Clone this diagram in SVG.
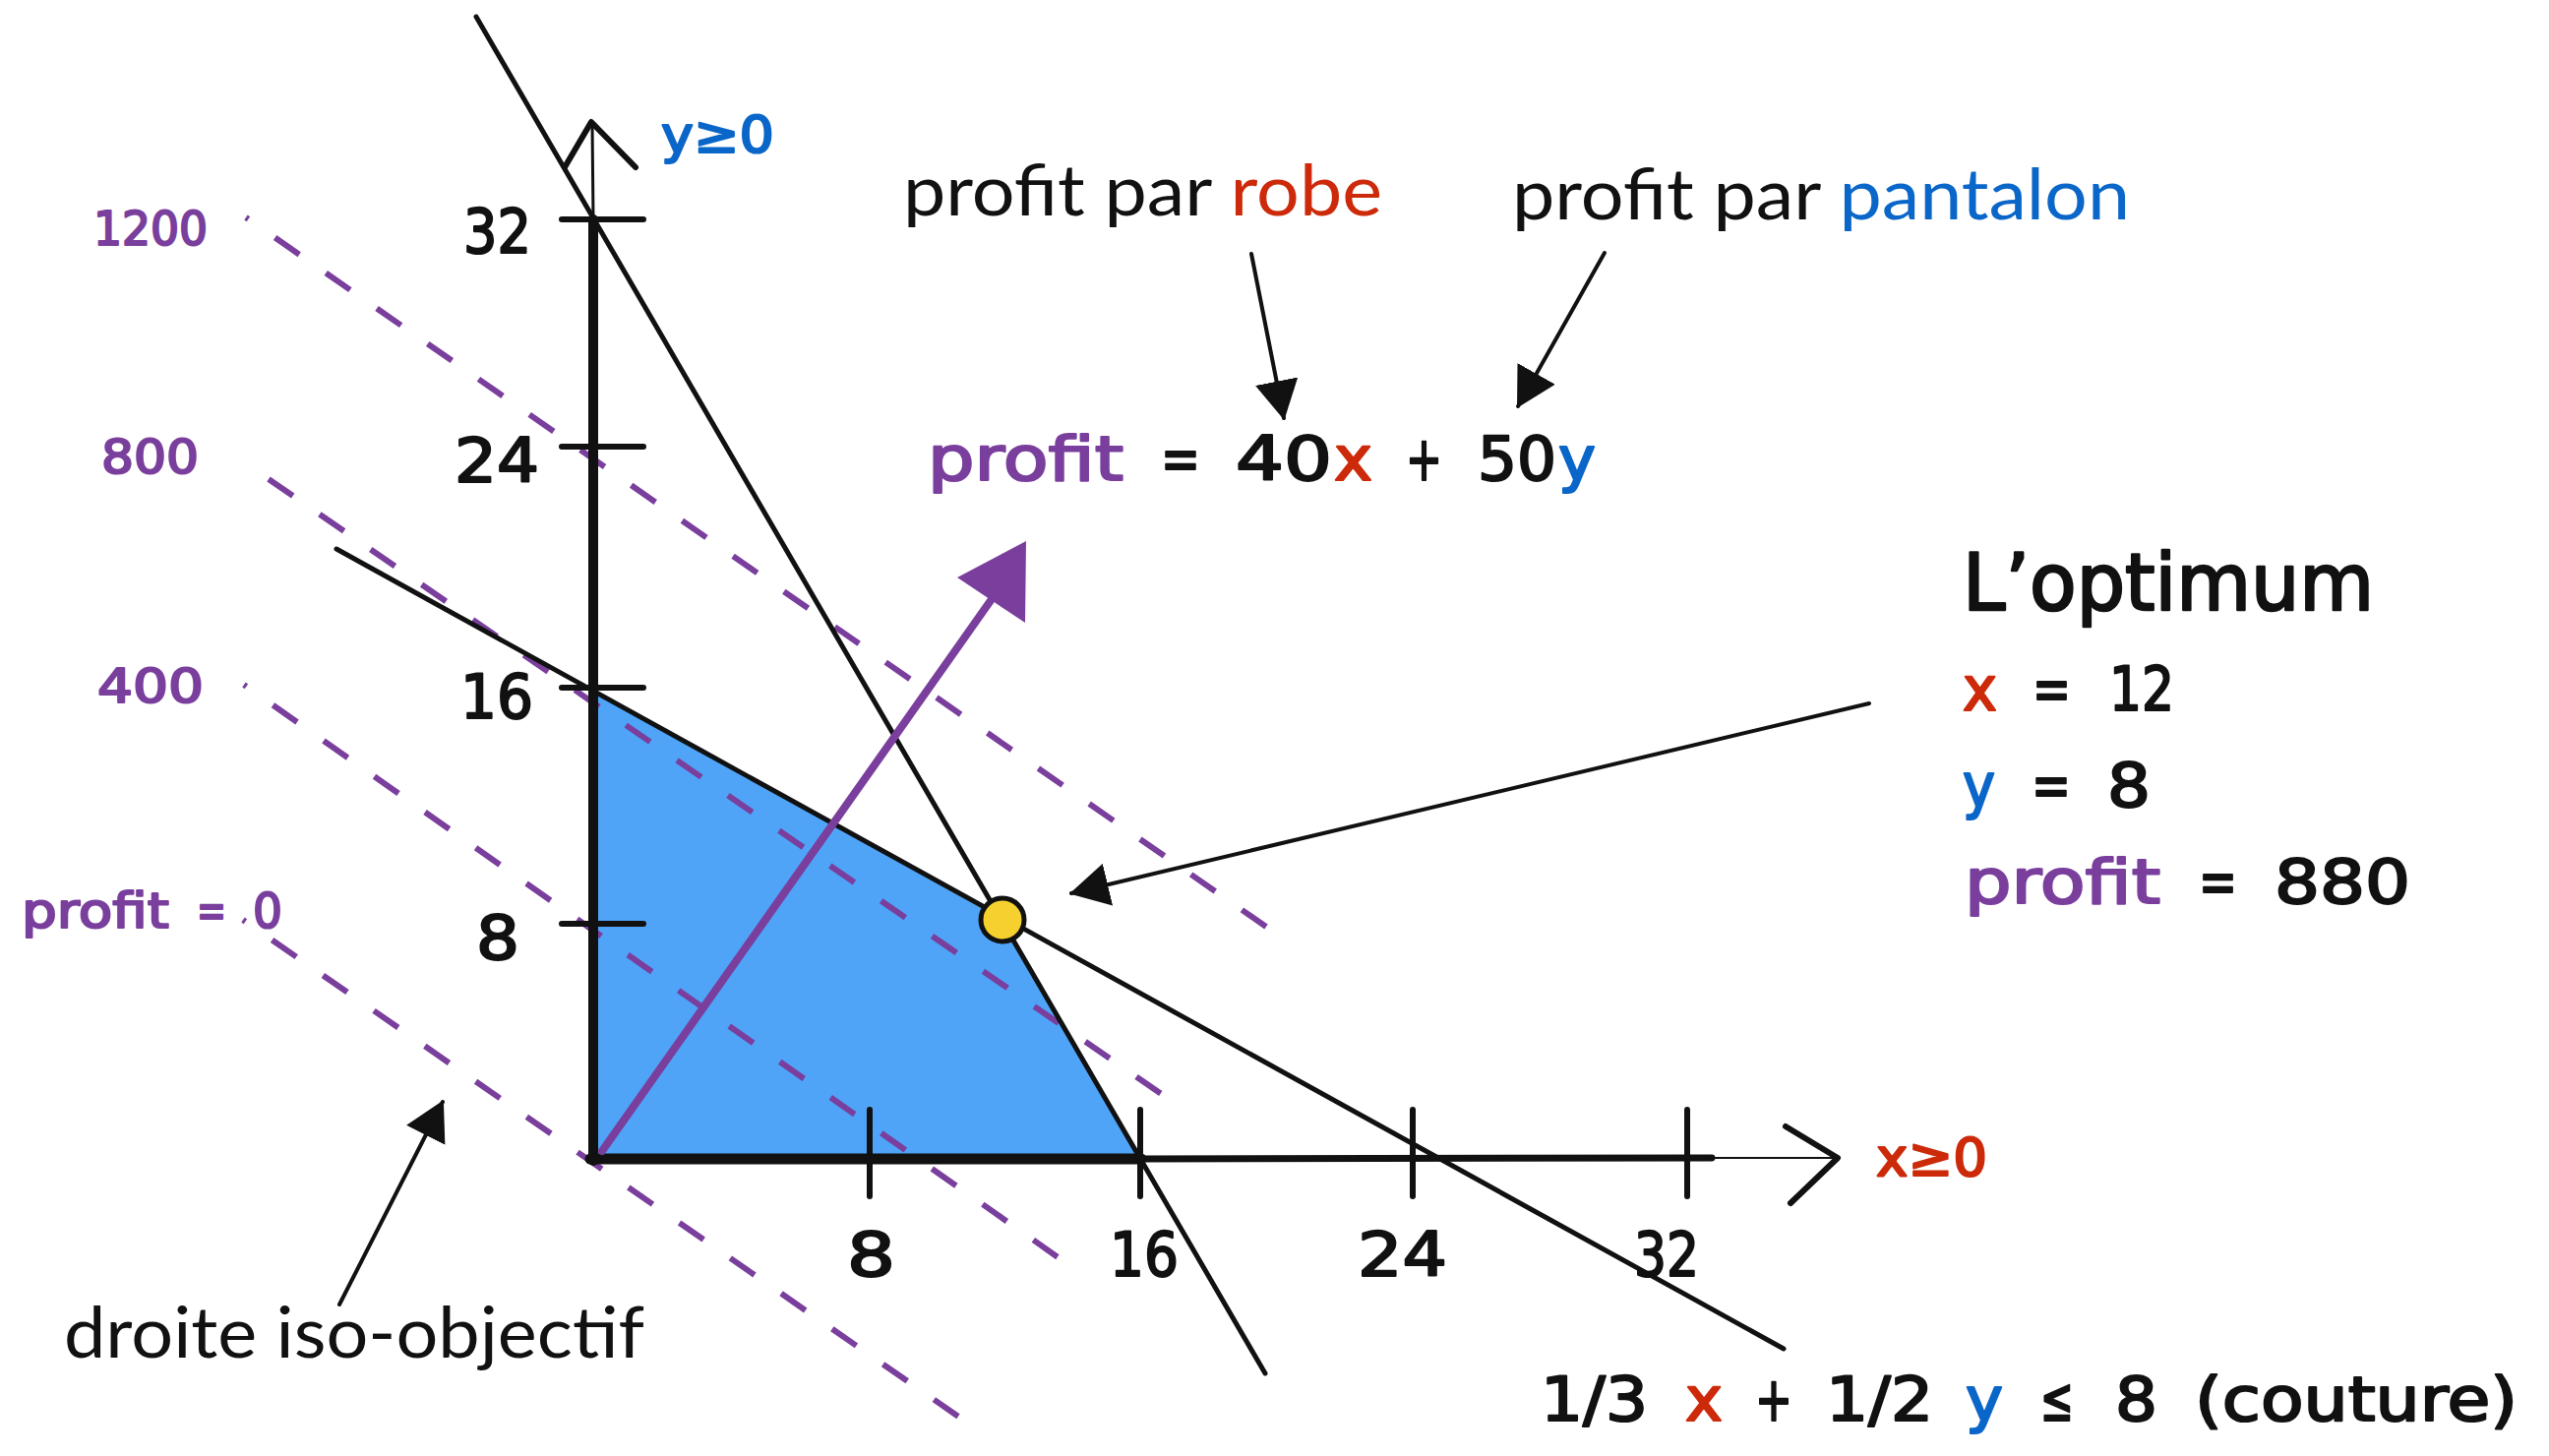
<svg xmlns="http://www.w3.org/2000/svg" width="2591" height="1480" viewBox="0 0 2591 1480">
<style>
.sans { font-family: Lato, "Liberation Sans", sans-serif; font-size: 72px; fill: #111; }
.chalk { font-family: "DejaVu Sans", "Liberation Sans", sans-serif; fill: #111; stroke: #111; stroke-width: 2.2; stroke-linejoin: round; }
.red { fill: #cc2a0a; }
.blu { fill: #0a66c8; }
.pur { fill: #7a3f9d; }
.chalk .red, .chalk.red { stroke: #cc2a0a; }
.chalk .blu, .chalk.blu { stroke: #0a66c8; }
.chalk .pur, .chalk.pur { stroke: #7a3f9d; }
.cline { stroke: #111; stroke-width: 5; fill: none; stroke-linecap: round; }
.axis { stroke: #111; fill: none; stroke-linecap: round; stroke-linejoin: round; }
.tick { stroke: #111; stroke-width: 6; stroke-linecap: round; }
.iso { stroke: #7a3f9d; stroke-width: 6; stroke-dasharray: 30 33; fill: none; }
.arr { stroke: #111; stroke-width: 4; fill: none; stroke-linecap: round; }
</style>
<defs>
<marker id="ah" markerUnits="userSpaceOnUse" markerWidth="40" markerHeight="44" refX="38" refY="22" orient="auto">
<path d="M0,0 L40,22 L0,44 Z" fill="#111"/>
</marker>
</defs>
<rect width="2591" height="1480" fill="#fff"/>

<g id="feasible-region">
<polygon points="603,1178 603,702 1019,935 1159,1178" fill="#4fa4f8"/>
</g>

<g id="iso-lines">
<line class="iso" x1="250" y1="221" x2="1310" y2="958" stroke-dashoffset="27"/>
<line class="iso" x1="273" y1="487" x2="1198" y2="1124"/>
<line class="iso" x1="248" y1="696" x2="1091" y2="1289" stroke-dashoffset="27"/>
<line class="iso" x1="247" y1="935" x2="983" y2="1446" stroke-dashoffset="27"/>
</g>

<g id="constraints">
<line class="cline" x1="484" y1="17" x2="1286" y2="1396"/>
<line class="cline" x1="342" y1="558" x2="1813" y2="1371"/>
</g>

<g id="axes">
<line class="axis" x1="603" y1="1180" x2="603" y2="223" stroke-width="10"/>
<line class="axis" x1="603" y1="223" x2="602" y2="126" stroke-width="3"/>
<polyline class="axis" points="574,170 601,124 646,170" stroke-width="6"/>
<line class="axis" x1="600" y1="1178" x2="1160" y2="1178" stroke-width="11"/>
<line class="axis" x1="1160" y1="1178" x2="1740" y2="1177" stroke-width="7"/>
<line class="axis" x1="1740" y1="1177" x2="1866" y2="1177" stroke-width="2"/>
<polyline class="axis" points="1815,1145 1868,1177 1820,1223" stroke-width="6"/>
<line class="tick" x1="571" y1="223" x2="654" y2="223"/>
<line class="tick" x1="571" y1="454" x2="654" y2="454"/>
<line class="tick" x1="571" y1="699" x2="654" y2="699"/>
<line class="tick" x1="571" y1="939" x2="654" y2="939"/>
<line class="tick" x1="884" y1="1128" x2="884" y2="1216"/>
<line class="tick" x1="1159" y1="1128" x2="1159" y2="1216"/>
<line class="tick" x1="1436" y1="1128" x2="1436" y2="1216"/>
<line class="tick" x1="1715" y1="1128" x2="1715" y2="1216"/>
</g>

<g id="axis-labels" class="chalk" font-size="62">
<text x="471" y="257" textLength="69" lengthAdjust="spacingAndGlyphs">32</text>
<text x="462" y="490" textLength="86" lengthAdjust="spacingAndGlyphs">24</text>
<text x="468" y="730" textLength="74" lengthAdjust="spacingAndGlyphs">16</text>
<text x="484" y="975" textLength="44" lengthAdjust="spacingAndGlyphs">8</text>
<text x="861" y="1297" textLength="49" lengthAdjust="spacingAndGlyphs">8</text>
<text x="1128" y="1297" textLength="70" lengthAdjust="spacingAndGlyphs">16</text>
<text x="1380" y="1297" textLength="91" lengthAdjust="spacingAndGlyphs">24</text>
<text x="1661" y="1297" textLength="66" lengthAdjust="spacingAndGlyphs">32</text>
<text class="red" x="1907" y="1195" font-size="54" textLength="113" lengthAdjust="spacingAndGlyphs">x≥0</text>
<text class="blu" x="672" y="155" font-size="52" textLength="115" lengthAdjust="spacingAndGlyphs">y≥0</text>
</g>

<g id="iso-labels" class="chalk pur" font-size="48" stroke-width="1.4">
<text class="pur" x="95" y="249" textLength="116" lengthAdjust="spacingAndGlyphs">1200</text>
<text class="pur" x="103" y="481" textLength="99" lengthAdjust="spacingAndGlyphs">800</text>
<text class="pur" x="99" y="714" textLength="108" lengthAdjust="spacingAndGlyphs">400</text>
<text class="pur" y="943" font-size="50"><tspan x="22" textLength="150" lengthAdjust="spacingAndGlyphs">profit</tspan><tspan x="200" textLength="30" lengthAdjust="spacingAndGlyphs">=</tspan><tspan x="257" textLength="30" lengthAdjust="spacingAndGlyphs">0</tspan></text>
</g>

<g id="gradient-arrow">
<line x1="612" y1="1170" x2="1008" y2="609" stroke="#7a3f9d" stroke-width="8" stroke-linecap="round"/>
<polygon points="1043,550 973,587 1042,633" fill="#7a3f9d"/>
</g>

<g id="optimum">
<circle cx="1019" cy="935" r="22" fill="#f5d02e" stroke="#111" stroke-width="5"/>
</g>

<g id="connectors">
<line class="arr" x1="1272" y1="258" x2="1305" y2="425" marker-end="url(#ah)"/>
<line class="arr" x1="1631" y1="257" x2="1543" y2="413" marker-end="url(#ah)"/>
<line class="arr" x1="1900" y1="715" x2="1089" y2="908" marker-end="url(#ah)"/>
<line class="arr" x1="345" y1="1326" x2="450" y2="1120" marker-end="url(#ah)"/>
</g>

<g id="label-robe">
<text class="sans" x="918" y="219" textLength="487" lengthAdjust="spacingAndGlyphs">profit par <tspan class="red">robe</tspan></text>
</g>
<g id="label-pantalon">
<text class="sans" x="1537" y="223" textLength="628" lengthAdjust="spacingAndGlyphs">profit par <tspan class="blu">pantalon</tspan></text>
</g>
<g id="label-iso">
<text class="sans" x="65" y="1380" textLength="590" lengthAdjust="spacingAndGlyphs">droite iso-objectif</text>
</g>

<g id="objective" class="chalk" font-size="62">
<text y="488"><tspan class="pur" x="943" textLength="199" lengthAdjust="spacingAndGlyphs">profit</tspan><tspan x="1180" textLength="40" lengthAdjust="spacingAndGlyphs">=</tspan><tspan x="1256" textLength="98" lengthAdjust="spacingAndGlyphs">40</tspan><tspan class="red" x="1356" textLength="39" lengthAdjust="spacingAndGlyphs">x</tspan><tspan x="1429" textLength="37" lengthAdjust="spacingAndGlyphs">+</tspan><tspan x="1502" textLength="80" lengthAdjust="spacingAndGlyphs">50</tspan><tspan class="blu" x="1584" textLength="38" lengthAdjust="spacingAndGlyphs">y</tspan></text>
</g>

<g id="optimum-box" class="chalk" font-size="62">
<text x="1995" y="620" font-size="80" stroke-width="2.6" textLength="418" lengthAdjust="spacingAndGlyphs">L’optimum</text>
<text y="722"><tspan class="red" x="1995" textLength="35" lengthAdjust="spacingAndGlyphs">x</tspan><tspan x="2066" textLength="39" lengthAdjust="spacingAndGlyphs">=</tspan><tspan x="2144" textLength="66" lengthAdjust="spacingAndGlyphs">12</tspan></text>
<text y="820"><tspan class="blu" x="1995" textLength="33" lengthAdjust="spacingAndGlyphs">y</tspan><tspan x="2065" textLength="40" lengthAdjust="spacingAndGlyphs">=</tspan><tspan x="2142" textLength="44" lengthAdjust="spacingAndGlyphs">8</tspan></text>
<text y="918"><tspan class="pur" x="1997" textLength="199" lengthAdjust="spacingAndGlyphs">profit</tspan><tspan x="2235" textLength="39" lengthAdjust="spacingAndGlyphs">=</tspan><tspan x="2312" textLength="138" lengthAdjust="spacingAndGlyphs">880</tspan></text>
</g>

<g id="couture-label" class="chalk" font-size="62">
<text y="1444"><tspan x="1566" textLength="109" lengthAdjust="spacingAndGlyphs">1/3</tspan><tspan class="red" x="1713" textLength="38" lengthAdjust="spacingAndGlyphs">x</tspan><tspan x="1784" textLength="38" lengthAdjust="spacingAndGlyphs">+</tspan><tspan x="1856" textLength="109" lengthAdjust="spacingAndGlyphs">1/2</tspan><tspan class="blu" x="1998" textLength="38" lengthAdjust="spacingAndGlyphs">y</tspan><tspan x="2074" textLength="34" lengthAdjust="spacingAndGlyphs">≤</tspan><tspan x="2150" textLength="43" lengthAdjust="spacingAndGlyphs">8</tspan><tspan x="2231" textLength="328" lengthAdjust="spacingAndGlyphs">(couture)</tspan></text>
</g>
</svg>
